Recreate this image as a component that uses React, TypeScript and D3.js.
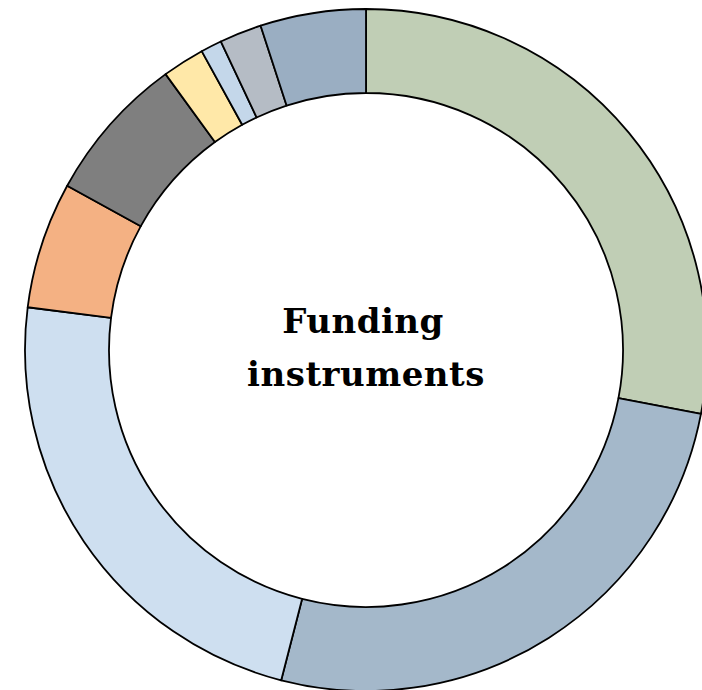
import * as d3 from "d3";
import React from "react";

// share of each funding instrument, clockwise from 12 o'clock
const categories = ["A", "B", "C", "D", "E", "F", "G", "H", "I"];
const shares = [28, 26, 23, 6, 7, 2, 1, 2, 5];
const colors = ["#c0ceb5", "#a4b8ca", "#cedff0", "#f4b183", "#7f7f7f", "#ffe8a8", "#c4d7ea", "#b5bcc5", "#9aaec2"];
const titleLines = ["Funding", "instruments"];

export default function App() {
  const width = 702;
  const height = 690;
  const cx = 366;
  const cy = 350;
  const outer = 341;
  const inner = 257;

  const pie = d3.pie<number>().sort(null).value(d => d);
  const arcs = pie(shares);
  const arc = d3.arc<d3.PieArcDatum<number>>().innerRadius(inner).outerRadius(outer);
  const color = d3.scaleOrdinal<string, string>().domain(categories).range(colors);

  return (
    <svg width={width} height={height} style={{position: "absolute", left: 0, top: 0}}>
      <rect width={width} height={height} fill="#fff"/>
      <g transform={`translate(${cx},${cy})`}>
        {arcs.map((a, i) => (
          <path key={categories[i]} d={arc(a) || ""} fill={color(categories[i])}
                stroke="#000" strokeWidth={1.8} strokeLinejoin="round"/>
        ))}
        <text textAnchor="middle" fontFamily="DejaVu Serif" fontWeight="bold" fontSize={34}
              letterSpacing={0.5} fill="#000">
          <tspan x={-3} y={-17}>{titleLines[0]}</tspan>
          <tspan x={0} y={36}>{titleLines[1]}</tspan>
        </text>
      </g>
    </svg>
  );
}
